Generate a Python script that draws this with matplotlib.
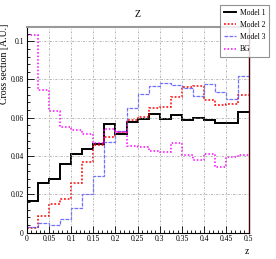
import numpy as np
from matplotlib import pyplot as plt
from matplotlib.ticker import MultipleLocator, FormatStrFormatter

plt.rcParams["font.family"] = ["Liberation Serif", "DejaVu Serif"]

# bin edges of z and histogram contents
z_edges = np.linspace(0, 0.5, 21)

model1 = [0.0167, 0.0258, 0.0282, 0.0357, 0.0411, 0.0436, 0.0462, 0.0565, 0.0515, 0.0577,
          0.0591, 0.0618, 0.0594, 0.0616, 0.0587, 0.0598, 0.0587, 0.0575, 0.0575, 0.0628]
model2 = [0.0022, 0.0086, 0.0149, 0.0176, 0.0258, 0.0368, 0.0459, 0.0500, 0.0525, 0.0589,
          0.0603, 0.0650, 0.0656, 0.0706, 0.0759, 0.0766, 0.0691, 0.0668, 0.0672, 0.0719]
model3 = [0.0030, 0.0051, 0.0039, 0.0071, 0.0127, 0.0200, 0.0298, 0.0473, 0.0530, 0.0650,
          0.0724, 0.0764, 0.0782, 0.0769, 0.0756, 0.0712, 0.0777, 0.0735, 0.0698, 0.0820]
bg = [0.1035, 0.0747, 0.0633, 0.0554, 0.0537, 0.0516, 0.0467, 0.0540, 0.0525, 0.0452,
      0.0446, 0.0425, 0.0420, 0.0470, 0.0404, 0.0378, 0.0408, 0.0343, 0.0394, 0.0404]

fig = plt.figure(figsize=(2.76, 2.59), dpi=100)
ax = fig.add_axes([0.0967, 0.1023, 0.8043, 0.7946])

ax.stairs(model1, z_edges, baseline=None, color="black", lw=1.4, label="Model 1")
ax.stairs(model2, z_edges, baseline=None, color="red", lw=1.1, ls=(0, (1.2, 1.2)), label="Model 2")
ax.stairs(model3, z_edges, baseline=None, color="#5858ff", lw=0.9, ls=(0, (3, 1)), alpha=0.85, label="Model 3")
ax.stairs(bg, z_edges, baseline=None, color="magenta", lw=1.1, ls=(0, (1, 1.3)), label="BG")

ax.set_xlim(0, 0.5)
ax.set_ylim(0, 0.1076)
ax.xaxis.set_major_locator(MultipleLocator(0.05))
ax.xaxis.set_minor_locator(MultipleLocator(0.01))
ax.yaxis.set_major_locator(MultipleLocator(0.02))
ax.yaxis.set_minor_locator(MultipleLocator(0.004))
ax.xaxis.set_major_formatter(FormatStrFormatter("%g"))
ax.yaxis.set_major_formatter(FormatStrFormatter("%g"))
ax.tick_params(which="both", direction="in", labelsize=5.5, width=0.6, pad=2)
ax.tick_params(which="major", length=5)
ax.tick_params(which="minor", length=2.5)
ax.grid(True, which="major", color="#999999", ls=(0, (3, 2, 1, 2)), lw=0.5)

for s in ["left", "bottom"]:
    ax.spines[s].set_linewidth(0.8)
ax.spines["top"].set_color("#999999")
ax.spines["top"].set_linewidth(1.5)
ax.spines["right"].set_color("#4a0000")
ax.spines["right"].set_linewidth(1.0)

ax.text(0.5, 1.057, "Z", transform=ax.transAxes, fontsize=7, ha="center", va="center")
ax.set_ylabel("Cross section [A.U.]", fontsize=7)
ax.yaxis.set_label_coords(-0.078, 0.82)
ax.set_xlabel("z", fontsize=7)
ax.xaxis.set_label_coords(0.99, -0.07)

leg = fig.legend(loc="upper left", bbox_to_anchor=(0.797, 0.981), fontsize=5.5,
                 frameon=True, fancybox=False, edgecolor="#777777", borderaxespad=0,
                 handlelength=1.6, handletextpad=0.5, labelspacing=0.55, borderpad=0.5)
leg.get_frame().set_linewidth(0.8)

fig.savefig("out.png", dpi=100)
